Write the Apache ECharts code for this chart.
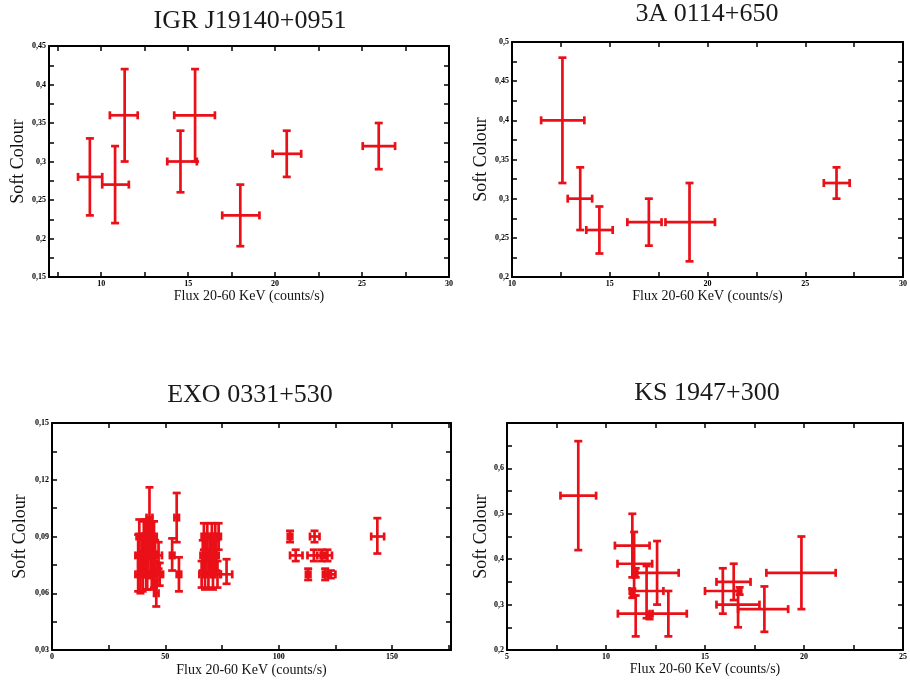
<!DOCTYPE html>
<html>
<head>
<meta charset="utf-8">
<script src="https://cdn.jsdelivr.net/npm/echarts@6/dist/echarts.min.js"></script>
<style>
  body { margin: 0; background: #fff; }
  #chart { width: 910px; height: 681px; }
</style>
</head>
<body>
<div id="chart"></div>
<script>
// titles of the four sources
const titles = ['IGR J19140+0951', '3A 0114+650', 'EXO 0331+530', 'KS 1947+300'];

// each point: [flux, soft colour, flux low, flux high, colour low, colour high]
const igrPoints = [
  [9.35, 0.28, 8.67, 10.06, 0.23, 0.33],
  [10.8, 0.27, 10.06, 11.59, 0.22, 0.32],
  [11.35, 0.36, 10.5, 12.1, 0.30, 0.42],
  [14.56, 0.30, 13.8, 15.5, 0.26, 0.34],
  [15.4, 0.36, 14.2, 16.54, 0.30, 0.42],
  [18.0, 0.23, 16.96, 19.1, 0.19, 0.27],
  [20.67, 0.31, 19.86, 21.5, 0.28, 0.34],
  [25.96, 0.32, 25.04, 26.9, 0.29, 0.35]
];

const a0114Points = [
  [12.58, 0.40, 11.49, 13.7, 0.32, 0.48],
  [13.49, 0.30, 12.85, 14.1, 0.26, 0.34],
  [14.47, 0.26, 13.8, 15.15, 0.23, 0.29],
  [17.0, 0.27, 15.9, 17.65, 0.24, 0.30],
  [19.08, 0.27, 17.85, 20.38, 0.22, 0.32],
  [26.6, 0.32, 25.95, 27.27, 0.30, 0.34]
];

const exoPoints = [
  [38, 0.08, 36.8, 39.2, 0.069, 0.091],
  [38, 0.07, 36.8, 39.2, 0.061, 0.079],
  [38.5, 0.09, 37.3, 39.7, 0.081, 0.099],
  [39, 0.07, 37.8, 40.2, 0.06, 0.08],
  [39.5, 0.08, 38.3, 40.7, 0.07, 0.09],
  [40, 0.07, 38.8, 41.2, 0.061, 0.079],
  [40, 0.08, 38.8, 41.2, 0.07, 0.09],
  [40.5, 0.09, 39.3, 41.7, 0.082, 0.098],
  [41, 0.08, 39.8, 42.2, 0.069, 0.091],
  [41, 0.09, 39.8, 42.2, 0.081, 0.099],
  [41.5, 0.07, 40.3, 42.7, 0.062, 0.078],
  [42, 0.09, 40.7, 43.3, 0.081, 0.099],
  [42, 0.07, 40.8, 43.2, 0.062, 0.078],
  [42.5, 0.08, 41.3, 43.7, 0.07, 0.09],
  [43, 0.10, 41.7, 44.3, 0.084, 0.116],
  [43, 0.09, 41.8, 44.2, 0.08, 0.1],
  [43.5, 0.08, 42.2, 44.8, 0.068, 0.092],
  [44, 0.09, 42.8, 45.2, 0.082, 0.098],
  [44, 0.07, 42.8, 45.2, 0.062, 0.078],
  [44.5, 0.08, 43.3, 45.7, 0.071, 0.089],
  [45, 0.07, 43.8, 46.2, 0.063, 0.077],
  [45, 0.09, 43.8, 46.2, 0.082, 0.098],
  [45.5, 0.08, 44.3, 46.7, 0.072, 0.088],
  [46, 0.06, 45, 47, 0.053, 0.067],
  [46.5, 0.07, 45, 48, 0.064, 0.076],
  [47, 0.08, 45.5, 48.5, 0.073, 0.087],
  [47.5, 0.07, 46, 49, 0.064, 0.076],
  [53, 0.08, 52, 54, 0.072, 0.089],
  [55, 0.10, 54, 56, 0.087, 0.113],
  [56, 0.07, 55, 57, 0.061, 0.079],
  [66, 0.07, 65, 67, 0.063, 0.077],
  [66.5, 0.08, 65.5, 67.5, 0.072, 0.088],
  [67, 0.09, 66, 68, 0.083, 0.097],
  [67.5, 0.07, 66.3, 68.7, 0.062, 0.078],
  [68, 0.08, 67, 69, 0.071, 0.089],
  [68.5, 0.09, 67.5, 69.5, 0.083, 0.097],
  [69, 0.07, 67.8, 70.2, 0.063, 0.077],
  [69.5, 0.08, 68.5, 70.5, 0.071, 0.089],
  [70, 0.08, 68.8, 71.2, 0.071, 0.089],
  [70.5, 0.09, 69.5, 71.5, 0.083, 0.097],
  [71, 0.07, 70, 72, 0.062, 0.078],
  [71.5, 0.08, 70.3, 72.7, 0.071, 0.089],
  [72, 0.09, 71, 73, 0.083, 0.097],
  [72.5, 0.08, 71.5, 73.5, 0.072, 0.088],
  [73, 0.07, 71.8, 74.2, 0.063, 0.077],
  [73.5, 0.09, 72.5, 74.5, 0.083, 0.097],
  [77, 0.07, 74.5, 79.5, 0.065, 0.078],
  [105, 0.09, 104, 106, 0.087, 0.093],
  [107.5, 0.08, 105, 110.5, 0.077, 0.083],
  [113, 0.07, 112, 114, 0.067, 0.073],
  [115.8, 0.09, 113.8, 118, 0.087, 0.093],
  [115.5, 0.08, 112.7, 118.5, 0.077, 0.083],
  [119, 0.08, 117, 121, 0.077, 0.083],
  [121.5, 0.08, 120, 123.5, 0.077, 0.083],
  [120.5, 0.07, 119.5, 122, 0.067, 0.073],
  [123, 0.07, 121.5, 125, 0.068, 0.072],
  [143.5, 0.09, 140.8, 146.5, 0.081, 0.0997]
];

const ksPoints = [
  [8.6, 0.54, 7.7, 9.5, 0.42, 0.66],
  [11.33, 0.43, 10.45, 12.2, 0.36, 0.50],
  [11.42, 0.39, 10.58, 12.33, 0.32, 0.46],
  [12.58, 0.37, 11.5, 13.67, 0.30, 0.44],
  [11.5, 0.37, 11.42, 11.58, 0.36, 0.38],
  [12.05, 0.33, 11.2, 12.9, 0.27, 0.385],
  [11.33, 0.325, 11.25, 11.42, 0.315, 0.335],
  [11.5, 0.28, 10.6, 12.35, 0.23, 0.32],
  [13.15, 0.28, 12.2, 14.08, 0.23, 0.33],
  [12.2, 0.275, 12.12, 12.28, 0.268, 0.282],
  [15.9, 0.33, 15.0, 16.75, 0.28, 0.38],
  [16.45, 0.35, 15.58, 17.3, 0.31, 0.39],
  [16.67, 0.30, 15.58, 17.75, 0.25, 0.33],
  [16.75, 0.33, 16.67, 16.83, 0.322, 0.338],
  [18.0, 0.29, 16.67, 19.2, 0.24, 0.34],
  [19.87, 0.37, 18.1, 21.6, 0.29, 0.45]
];

// ticks and labelled ticks
const igrXTicks = [7.5, 10, 12.5, 15, 17.5, 20, 22.5, 25, 27.5, 30];
const igrXLabels = [10, 15, 20, 25, 30];
const igrYTicks = [0.15, 0.175, 0.2, 0.225, 0.25, 0.275, 0.3, 0.325, 0.35, 0.375, 0.4, 0.425, 0.45];
const igrYLabels = [0.15, 0.2, 0.25, 0.3, 0.35, 0.4, 0.45];

const a0114XTicks = [10, 12.5, 15, 17.5, 20, 22.5, 25, 27.5, 30];
const a0114XLabels = [10, 15, 20, 25, 30];
const a0114YTicks = [0.2, 0.225, 0.25, 0.275, 0.3, 0.325, 0.35, 0.375, 0.4, 0.425, 0.45, 0.475, 0.5];
const a0114YLabels = [0.2, 0.25, 0.3, 0.35, 0.4, 0.45, 0.5];

const exoXTicks = [0, 25, 50, 75, 100, 125, 150, 175];
const exoXLabels = [0, 50, 100, 150];
const exoYTicks = [0.03, 0.045, 0.06, 0.075, 0.09, 0.105, 0.12, 0.135, 0.15];
const exoYLabels = [0.03, 0.06, 0.09, 0.12, 0.15];

const ksXTicks = [5, 7.5, 10, 12.5, 15, 17.5, 20, 22.5, 25];
const ksXLabels = [5, 10, 15, 20, 25];
const ksYTicks = [0.2, 0.25, 0.3, 0.35, 0.4, 0.45, 0.5, 0.55, 0.6, 0.65, 0.7];
const ksYLabels = [0.2, 0.3, 0.4, 0.5, 0.6];

const RED = '#ea1018';
const SERIF = '"Liberation Serif", "DejaVu Serif", serif';
const X_NAME = 'Flux 20-60 KeV (counts/s)';
const Y_NAME = 'Soft Colour';

const fmt = v => String(v).replace('.', ',');

const panels = [
  { pts: igrPoints, rect: [49, 46, 400, 231], xr: [7, 30], yr: [0.15, 0.45],
    xt: igrXTicks, xl: igrXLabels, yt: igrYTicks, yl: igrYLabels, xGap: 9, yGap: 22, title: [250, 21] },
  { pts: a0114Points, rect: [512, 42, 393, 235], xr: [10, 30], yr: [0.2, 0.5],
    xt: a0114XTicks, xl: a0114XLabels, yt: a0114YTicks, yl: a0114YLabels, xGap: 9, yGap: 22, title: [707, 14] },
  { pts: exoPoints, rect: [52, 423, 399, 227], xr: [0, 176], yr: [0.03, 0.15],
    xt: exoXTicks, xl: exoXLabels, yt: exoYTicks, yl: exoYLabels, xGap: 13, yGap: 23, title: [250, 395] },
  { pts: ksPoints, rect: [507, 423, 402, 227], xr: [5, 25], yr: [0.2, 0.7],
    xt: ksXTicks, xl: ksXLabels, yt: ksYTicks, yl: ksYLabels, xGap: 10, yGap: 17, title: [707, 393] }
];

function renderErr(params, api) {
  const x = api.value(0), y = api.value(1);
  const l = api.coord([api.value(2), y]);
  const r = api.coord([api.value(3), y]);
  const b = api.coord([x, api.value(4)]);
  const t = api.coord([x, api.value(5)]);
  const c = 4;
  const style = { stroke: RED, lineWidth: 2.7 };
  const ln = (x1, y1, x2, y2) => ({ type: 'line', shape: { x1, y1, x2, y2 }, style });
  return {
    type: 'group',
    children: [
      ln(l[0], l[1], r[0], r[1]),
      ln(b[0], b[1], t[0], t[1]),
      ln(l[0], l[1] - c, l[0], l[1] + c),
      ln(r[0], r[1] - c, r[0], r[1] + c),
      ln(b[0] - c, b[1], b[0] + c, b[1]),
      ln(t[0] - c, t[1], t[0] + c, t[1])
    ]
  };
}

const axisLine = { show: true, onZero: false, lineStyle: { color: '#000', width: 2 } };
const tickStyle = { color: '#000', width: 1.5 };
const labelStyle = { fontSize: 8, fontWeight: 'bold', color: '#000', fontFamily: SERIF, formatter: fmt };

const grid = [], xAxis = [], yAxis = [], series = [], graphic = [];

panels.forEach((p, i) => {
  grid.push({ left: p.rect[0], top: p.rect[1], width: p.rect[2], height: p.rect[3] });
  ['bottom', 'top'].forEach(pos => {
    xAxis.push({
      gridIndex: i, type: 'value', position: pos, min: p.xr[0], max: p.xr[1],
      axisLine,
      axisTick: { inside: true, length: 5, customValues: p.xt, lineStyle: tickStyle },
      axisLabel: pos === 'bottom'
        ? Object.assign({ customValues: p.xl, margin: 3 }, labelStyle)
        : { show: false },
      splitLine: { show: false },
      name: pos === 'bottom' ? X_NAME : '',
      nameLocation: 'middle', nameGap: p.xGap,
      nameTextStyle: { fontFamily: SERIF, fontSize: 14, color: '#111' }
    });
  });
  ['left', 'right'].forEach(pos => {
    yAxis.push({
      gridIndex: i, type: 'value', position: pos, min: p.yr[0], max: p.yr[1],
      axisLine,
      axisTick: { inside: true, length: 5, customValues: p.yt, lineStyle: tickStyle },
      axisLabel: pos === 'left'
        ? Object.assign({ customValues: p.yl, margin: 3 }, labelStyle)
        : { show: false },
      splitLine: { show: false },
      name: pos === 'left' ? Y_NAME : '',
      nameLocation: 'middle', nameGap: p.yGap,
      nameTextStyle: { fontFamily: SERIF, fontSize: 18, color: '#111' }
    });
  });
  series.push({
    type: 'custom',
    xAxisIndex: 2 * i, yAxisIndex: 2 * i,
    renderItem: renderErr,
    encode: { x: 0, y: 1 },
    data: p.pts,
    z: 3
  });
  graphic.push({
    type: 'text', x: p.title[0], y: p.title[1],
    style: { text: titles[i], font: '26px ' + SERIF, fill: '#1a1a1a',
      textAlign: 'center', textVerticalAlign: 'middle' }
  });
});

const chart = echarts.init(document.getElementById('chart'));
chart.setOption({
  animation: false,
  backgroundColor: '#fff',
  grid, xAxis, yAxis, series, graphic
});
</script>
</body>
</html>
